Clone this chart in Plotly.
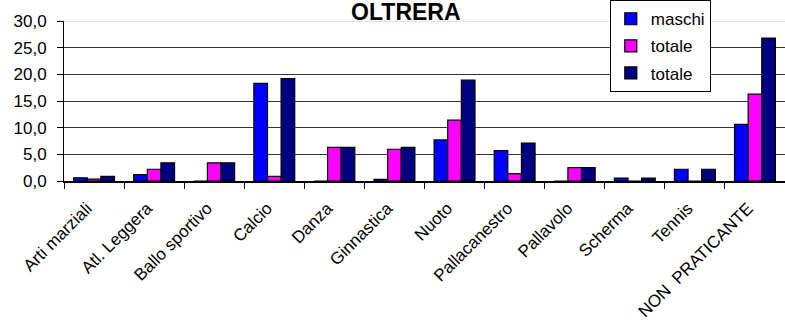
import plotly.graph_objects as go

categories = ["Arti marziali", "Atl. Leggera", "Ballo sportivo", "Calcio", "Danza",
              "Ginnastica", "Nuoto", "Pallacanestro", "Pallavolo", "Scherma",
              "Tennis", "NON  PRATICANTE"]
maschi = [0.6, 1.2, 0.0, 18.3, 0.0, 0.3, 7.7, 5.7, 0.0, 0.55, 2.2, 10.6]
totale_f = [0.35, 2.2, 3.4, 0.85, 6.3, 5.95, 11.4, 1.4, 2.5, 0.0, 0.0, 16.3]
totale = [0.85, 3.4, 3.4, 19.2, 6.3, 6.3, 18.9, 7.1, 2.5, 0.55, 2.2, 26.8]
series_names = ["maschi", "totale", "totale"]
series_colors = ["#0000FF", "#FF00FF", "#000080"]
title_text = "OLTRERA"

FONT = "Arial, Liberation Sans, sans-serif"

fig = go.Figure()
for i, (name, vals, col) in enumerate(zip(series_names, [maschi, totale_f, totale], series_colors)):
    fig.add_trace(go.Bar(
        x=categories, y=vals, name=name, legendgroup=f"g{i}",
        marker=dict(color=col, line=dict(color="black", width=1.2)),
    ))

fig.update_layout(
    width=785, height=331,
    margin=dict(l=64, r=0, t=21, b=150, pad=0, autoexpand=False),
    paper_bgcolor="white", plot_bgcolor="white",
    barmode="group", bargap=0.32, bargroupgap=0,
    separators=",.",
    font=dict(family=FONT, color="black"),
    title=dict(text=f"<b>{title_text}</b>", x=0.517, xanchor="center",
               y=0.988, yanchor="top", yref="container", pad=dict(t=0, b=0),
               font=dict(size=23, family=FONT)),
    legend=dict(x=0.757, xanchor="left", y=1.13, yanchor="top",
                bordercolor="black", borderwidth=1, bgcolor="white",
                font=dict(size=17, family=FONT), tracegroupgap=2,
                itemwidth=30),
    xaxis=dict(type="category", tickangle=-45, tickfont=dict(size=17),
               ticks="outside", ticklen=6, tickcolor="black", tickson="boundaries",
               ticklabelstandoff=9, ticklabelshift=-7, automargin=False,
               showline=True, linecolor="black", linewidth=1.5, showgrid=False),
    yaxis=dict(range=[0, 30], dtick=5, tickformat=".1f", tickfont=dict(size=17),
               ticks="outside", ticklen=6, tickcolor="black", automargin=False,
               ticklabelstandoff=7,
               showline=True, linecolor="black", linewidth=1,
               showgrid=True, gridcolor="#333333", gridwidth=1, zeroline=False),
    shapes=[dict(type="line", xref="paper", x0=0, x1=1, yref="y", y0=30, y1=30,
                 line=dict(color="#d9d9d9", width=1.5), layer="above")],
)

fig.write_html("out.html", config={"displayModeBar": False},
               post_script="document.body.style.margin='0';")
